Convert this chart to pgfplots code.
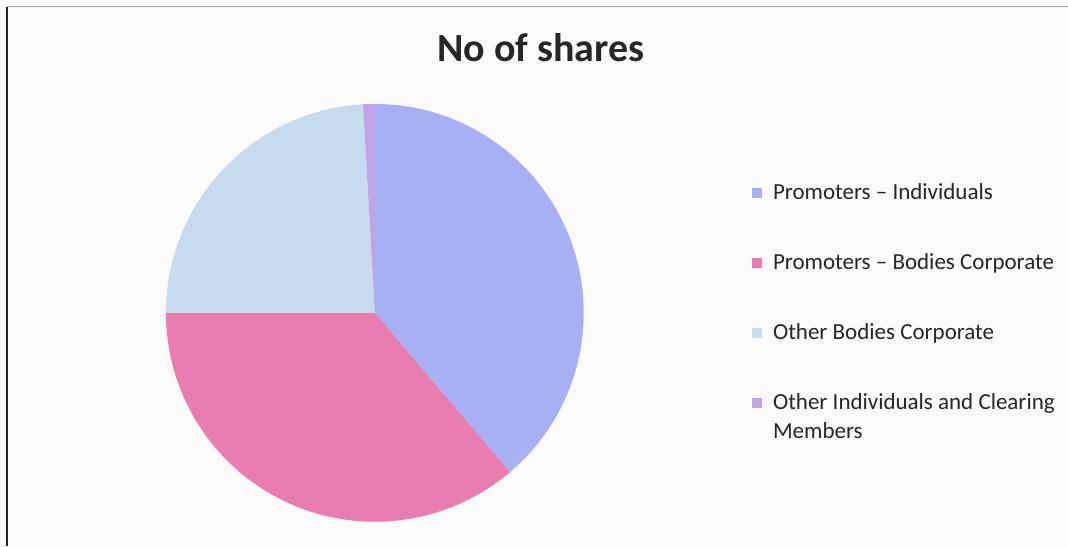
\documentclass[border=0pt]{standalone}
\usepackage{fontspec}
\setmainfont{Carlito}
\usepackage{pgfplots}
\pgfplotsset{compat=1.18}
\usepackage{pgfplotstable}
\definecolor{bgc}{RGB}{253,250,252}
\definecolor{cA}{RGB}{166,176,243}
\definecolor{cB}{RGB}{232,126,176}
\definecolor{cC}{RGB}{198,220,238}
\definecolor{cD}{RGB}{194,164,230}
\definecolor{txt}{RGB}{38,38,38}
% share of each holder group, in per cent
\pgfplotstableread{
group share
1 38.8
2 36.2
3 24.1
4 0.9
}\sharetable
\pgfplotstablegetelem{0}{share}\of\sharetable \let\sA\pgfplotsretval
\pgfplotstablegetelem{1}{share}\of\sharetable \let\sB\pgfplotsretval
\pgfplotstablegetelem{2}{share}\of\sharetable \let\sC\pgfplotsretval
\pgfplotstablegetelem{3}{share}\of\sharetable \let\sD\pgfplotsretval
\pgfmathsetmacro\aA{90}
\pgfmathsetmacro\aB{\aA-3.6*\sA}
\pgfmathsetmacro\aC{\aB-3.6*\sB}
\pgfmathsetmacro\aD{\aC-3.6*\sC}
\pgfmathsetmacro\aE{\aD-3.6*\sD}
\def\cx{375}\def\cy{233}\def\rr{209}
\begin{document}
\begin{tikzpicture}
\begin{axis}[
  width=534pt, height=273pt, scale only axis,
  xmin=0, xmax=1068, ymin=0, ymax=546,
  hide axis, clip=false,
  legend cell align=left,
  legend style={
    at={(axis cs:746,370)}, anchor=north west,
    draw=none, fill=none,
    font=\fontsize{11.5}{14.5}\selectfont\color{txt},
    row sep=22pt,
    nodes={text height=8.5pt, text depth=2.5pt, inner sep=1pt},
  },
  legend image code/.code={\fill[#1] (0pt,-2.5pt) rectangle (5pt,2.5pt);
    \path (0pt,0pt) -- (9.5pt,0pt);},
]
\fill[bgc] (axis cs:0,0) rectangle (axis cs:1068,546);
\draw[gray!70, line width=0.5pt] (axis cs:7,539) -- (axis cs:1068,539);
\draw[black!85, line width=1.2pt] (axis cs:7,539) -- (axis cs:7,0);

\addplot[fill=cA, draw=none, domain=\aB:\aA, samples=120, variable=\t]
  ({\cx+\rr*cos(\t)},{\cy+\rr*sin(\t)}) -- (axis cs:\cx,\cy) -- cycle;
\addlegendentry{Promoters – Individuals}
\addplot[fill=cB, draw=none, domain=\aC:\aB, samples=120, variable=\t]
  ({\cx+\rr*cos(\t)},{\cy+\rr*sin(\t)}) -- (axis cs:\cx,\cy) -- cycle;
\addlegendentry{Promoters – Bodies Corporate}
\addplot[fill=cC, draw=none, domain=\aD:\aC, samples=120, variable=\t]
  ({\cx+\rr*cos(\t)},{\cy+\rr*sin(\t)}) -- (axis cs:\cx,\cy) -- cycle;
\addlegendentry{Other Bodies Corporate}
\addplot[fill=cD, draw=none, domain=\aE:\aD, samples=20, variable=\t]
  ({\cx+\rr*cos(\t)},{\cy+\rr*sin(\t)}) -- (axis cs:\cx,\cy) -- cycle;
\addlegendentry{\begin{tabular}[t]{@{}l@{}}Other Individuals and Clearing\\Members\end{tabular}}

\node[font=\fontsize{20}{24}\selectfont\bfseries, text=txt] at (axis cs:541,498) {No of shares};
\end{axis}
\end{tikzpicture}
\end{document}
